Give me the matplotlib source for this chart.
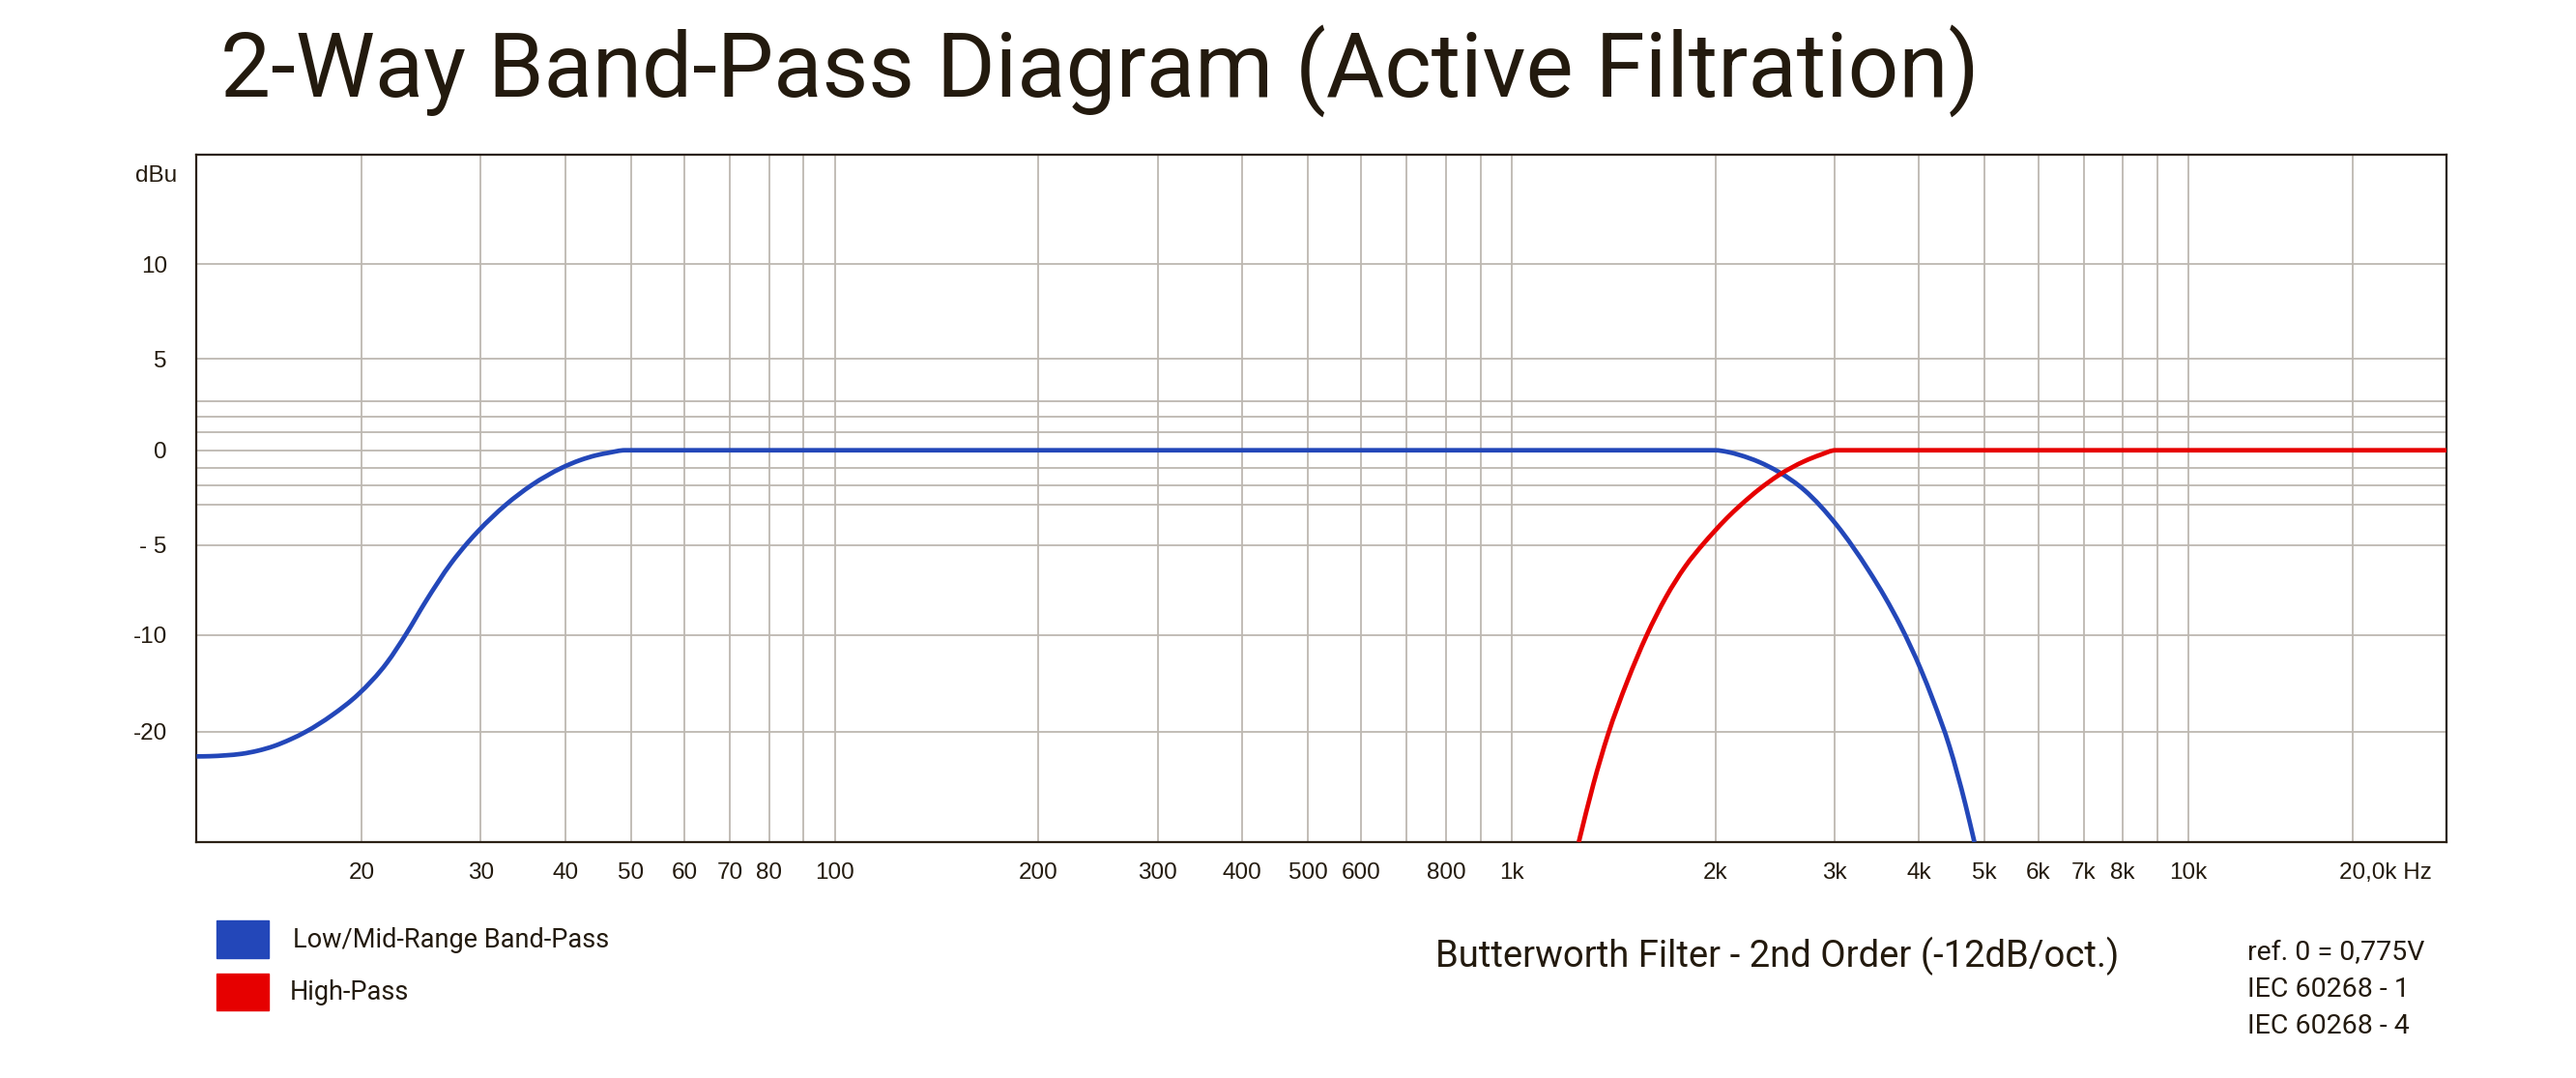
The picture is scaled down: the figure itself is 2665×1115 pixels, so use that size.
import matplotlib
matplotlib.use("Agg")
import matplotlib.pyplot as plt
import numpy as np
from matplotlib.patches import Rectangle, PathPatch
from matplotlib.path import Path
from matplotlib.ticker import FixedLocator, NullFormatter
import matplotlib.transforms as mtransforms

# ---- data (Hz, dBu) ----
lowmid_freq = [11.41, 11.93, 12.6, 13.31, 14.06, 14.85, 15.68, 16.57, 18.08, 19.77,
               21.8, 23.28, 24.85, 27.13, 28.66, 29.72, 32.68, 35.68, 39.52, 42.06,
               44.43, 46.42, 49.0,
               2000, 2082, 2175, 2323, 2480, 2708, 3022, 3372, 3562, 3763, 4022,
               4198, 4436, 4684, 4829]
lowmid_db = [-22.56, -22.54, -22.45, -22.29, -21.97, -21.49, -20.82, -19.99, -18.31, -16.15,
             -12.88, -9.94, -8.16, -5.99, -4.89, -4.31, -3.0, -2.0, -1.01, -0.57,
             -0.29, -0.14, 0,
             0, -0.09, -0.28, -0.68, -1.24, -2.26, -4.0, -6.42, -7.89, -9.55, -13.53,
             -16.8, -21.53, -27.53, -31.4]

highpass_freq = [1257, 1321, 1388, 1482, 1583, 1690, 1805, 1928, 1987, 2082, 2175,
                 2323, 2480, 2708, 2861, 3012, 24060]
highpass_db = [-31.4, -25.43, -20.33, -14.83, -10.07, -7.91, -6.19, -4.86, -4.37, -3.65,
               -3.05, -2.21, -1.44, -0.63, -0.26, 0, 0]

freq_major = [20, 30, 40, 50, 60, 70, 80, 100, 200, 300, 400, 500, 600, 800,
              1000, 2000, 3000, 4000, 5000, 6000, 7000, 8000, 10000, 17500]
freq_labels = ["20", "30", "40", "50", "60", "70", "80", "100", "200", "300", "400",
               "500", "600", "800", "1k", "2k", "3k", "4k", "5k", "6k", "7k", "8k",
               "10k", "20,0k Hz"]
freq_minor = [90, 700, 900, 9000]

db_major = [10, 5, 0, -5, -10, -20]
db_labels = ["10", "5", "0", "- 5", "-10", "-20"]
db_minor = [3, 2, 1, -1, -2, -3]

# the dBu axis of the original is not uniform: piecewise scale
scale_db = [-100, -31.4, -20, -10, -5, -3, -2, -1, 0, 1, 2, 3, 5, 10, 15.8, 100]
scale_pos = [-686, 0, 114.3, 214.3, 307, 349, 369.3, 387.3, 405.3, 423.7, 439.7,
             455.7, 500, 598, 711, 2361]


def fwd(y):
    return np.interp(y, scale_db, scale_pos)


def inv(p):
    return np.interp(p, scale_pos, scale_db)


def smooth_path(freqs, dbs):
    # cubic bezier through the read points, built in scaled (display-like) space
    X = np.log10(np.asarray(freqs, float))
    Y = fwd(np.asarray(dbs, float))
    h = np.diff(X)
    d = np.diff(Y) / h
    n = len(X)
    m = np.zeros(n)
    m[0], m[-1] = d[0], d[-1]
    for k in range(1, n - 1):
        if d[k - 1] * d[k] <= 0:
            m[k] = 0
        else:
            m[k] = (h[k] * d[k - 1] + h[k - 1] * d[k]) / (h[k - 1] + h[k])
    verts = [(X[0], Y[0])]
    codes = [Path.MOVETO]
    for k in range(n - 1):
        verts += [(X[k] + h[k] / 3, Y[k] + m[k] * h[k] / 3),
                  (X[k + 1] - h[k] / 3, Y[k + 1] - m[k + 1] * h[k] / 3),
                  (X[k + 1], Y[k + 1])]
        codes += [Path.CURVE4] * 3
    verts = np.array(verts)
    data = np.column_stack([10 ** verts[:, 0], inv(verts[:, 1])])
    return Path(data, codes)


W, H = 2665, 1115
TXT = "#231a0e"
GRID = "#bdb8b1"
BLUE = "#2347b9"
RED = "#e60000"

fig = plt.figure(figsize=(W / 100, H / 100), dpi=100)
ax = fig.add_axes([203.4 / W, (H - 871) / H, (2531 - 203.4) / W, (871 - 160) / H])

ax.set_xscale("log")
ax.set_yscale("function", functions=(fwd, inv))
ax.set_xlim(11.41, 24060)
ax.set_ylim(-31.4, 15.8)

for fr, db, col in [(lowmid_freq, lowmid_db, BLUE), (highpass_freq, highpass_db, RED)]:
    ax.add_patch(PathPatch(smooth_path(fr, db), facecolor="none", edgecolor=col,
                           lw=3.4, capstyle="butt", zorder=3))

ax.xaxis.set_major_locator(FixedLocator(freq_major))
ax.xaxis.set_minor_locator(FixedLocator(freq_minor))
ax.set_xticklabels(freq_labels)
ax.xaxis.set_minor_formatter(NullFormatter())
ax.yaxis.set_major_locator(FixedLocator(db_major))
ax.yaxis.set_minor_locator(FixedLocator(db_minor))
ax.set_yticklabels(db_labels)
ax.yaxis.set_minor_formatter(NullFormatter())

ax.grid(True, which="both", color=GRID, lw=1.3)
ax.set_axisbelow(True)
ax.tick_params(which="both", length=0)
ax.tick_params(axis="x", pad=15, labelsize=17.5, labelcolor=TXT)
ax.tick_params(axis="y", pad=22, labelsize=17.5, labelcolor=TXT)
for lab in ax.get_xticklabels() + ax.get_yticklabels():
    lab.set_fontfamily("Liberation Sans")
last = ax.get_xticklabels()[-1]
last.set_horizontalalignment("left")
last.set_transform(last.get_transform() +
                   mtransforms.ScaledTranslation(-14 / 100, 0, fig.dpi_scale_trans))

for s in ax.spines.values():
    s.set_color("#2b2115")
    s.set_linewidth(1.6)

fig.text(183 / W, 1 - 181.7 / H, "dBu", ha="right", va="center",
         fontsize=17.5, family="Liberation Sans", color=TXT)

fig.text(228 / W, 1 - 100 / H, "2-Way Band-Pass Diagram (Active Filtration)",
         ha="left", va="baseline", fontsize=66.7, family="Roboto", color=TXT)

# legend swatches
fig.add_artist(Rectangle((223.7 / W, 1 - 990.7 / H), 54 / W, 38.4 / H,
                         transform=fig.transFigure, color=BLUE))
fig.add_artist(Rectangle((223.7 / W, 1 - 1045 / H), 54 / W, 38.4 / H,
                         transform=fig.transFigure, color=RED))
fig.text(302.7 / W, 1 - 980 / H, "Low/Mid-Range Band-Pass", ha="left", va="baseline",
         fontsize=19.5, family="Roboto", color=TXT)
fig.text(300 / W, 1 - 1034 / H, "High-Pass", ha="left", va="baseline",
         fontsize=19.5, family="Roboto", color=TXT)

fig.text(1484.6 / W, 1 - 1000 / H, "Butterworth Filter - 2nd Order (-12dB/oct.)",
         ha="left", va="baseline", fontsize=27.5, family="Roboto", color=TXT)

notes = ["ref. 0 = 0,775V", "IEC 60268 - 1", "IEC 60268 - 4"]
for i, t in enumerate(notes):
    fig.text(2325 / W, 1 - (992.7 + 38.2 * i) / H, t, ha="left", va="baseline",
             fontsize=20.5, family="Roboto", color=TXT)

fig.savefig("out.png", dpi=100)
